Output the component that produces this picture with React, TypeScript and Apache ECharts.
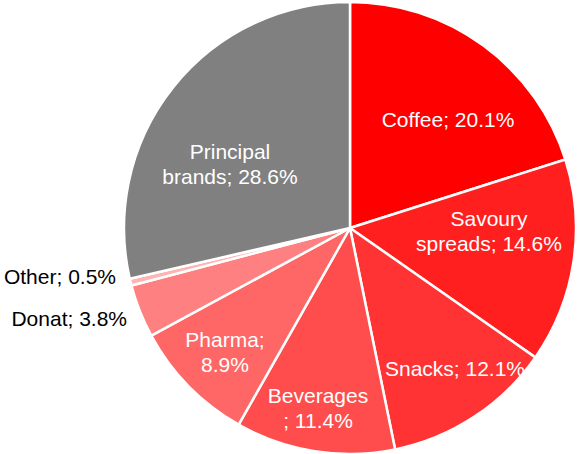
import React, { useEffect, useRef } from "react";
import * as echarts from "echarts";

const categories = ["Coffee", "Savoury spreads", "Snacks", "Beverages", "Pharma", "Donat", "Other", "Principal brands"];
const values = [20.1, 14.6, 12.1, 11.4, 8.9, 3.8, 0.5, 28.6];
const labelTexts = [
  "Coffee; 20.1%",
  "Savoury\nspreads; 14.6%",
  "Snacks; 12.1%",
  "Beverages\n; 11.4%",
  "Pharma;\n8.9%",
  "Donat; 3.8%",
  "Other; 0.5%",
  "Principal\nbrands; 28.6%",
];
const colors = ["#FF0000", "#FF1F1F", "#FF3333", "#FF4D4D", "#FF6666", "#FF8080", "#FFB3B3", "#808080"];

// label layout (x, y, align, text colour)
const labelLayoutPos: [number, number, string, string][] = [
  [448, 119, "center", "#ffffff"],
  [489, 231, "center", "#ffffff"],
  [455, 368, "center", "#ffffff"],
  [318, 408, "center", "#ffffff"],
  [225, 352, "center", "#ffffff"],
  [127, 318, "right", "#000000"],
  [116, 276, "right", "#000000"],
  [230, 164, "center", "#ffffff"],
];

export default function App() {
  const ref = useRef<HTMLDivElement>(null);
  useEffect(() => {
    if (!ref.current) return;
    const chart = echarts.init(ref.current, null, { renderer: "svg" });
    chart.setOption({
      animation: false,
      backgroundColor: "#ffffff",
      series: [
        {
          type: "pie",
          center: [350, 228],
          radius: 226,
          startAngle: 90,
          clockwise: true,
          avoidLabelOverlap: false,
          itemStyle: { borderColor: "#ffffff", borderWidth: 2.5 },
          labelLine: { show: false },
          label: {
            show: true,
            position: "inside",
            fontFamily: "Liberation Sans, Arial, sans-serif",
            fontSize: 21,
            lineHeight: 25,
          },
          labelLayout: (params: any) => {
            const p = labelLayoutPos[params.dataIndex];
            return { x: p[0], y: p[1], align: p[2], verticalAlign: "middle" };
          },
          data: categories.map((c, i) => ({
            name: c,
            value: values[i],
            itemStyle: { color: colors[i] },
            label: { formatter: labelTexts[i], color: labelLayoutPos[i][3], align: labelLayoutPos[i][2] },
          })),
        },
      ],
    });
    return () => chart.dispose();
  }, []);
  return (
    <div
      ref={ref}
      style={{ position: "fixed", left: 0, top: 0, width: 577, height: 454 }}
    />
  );
}
